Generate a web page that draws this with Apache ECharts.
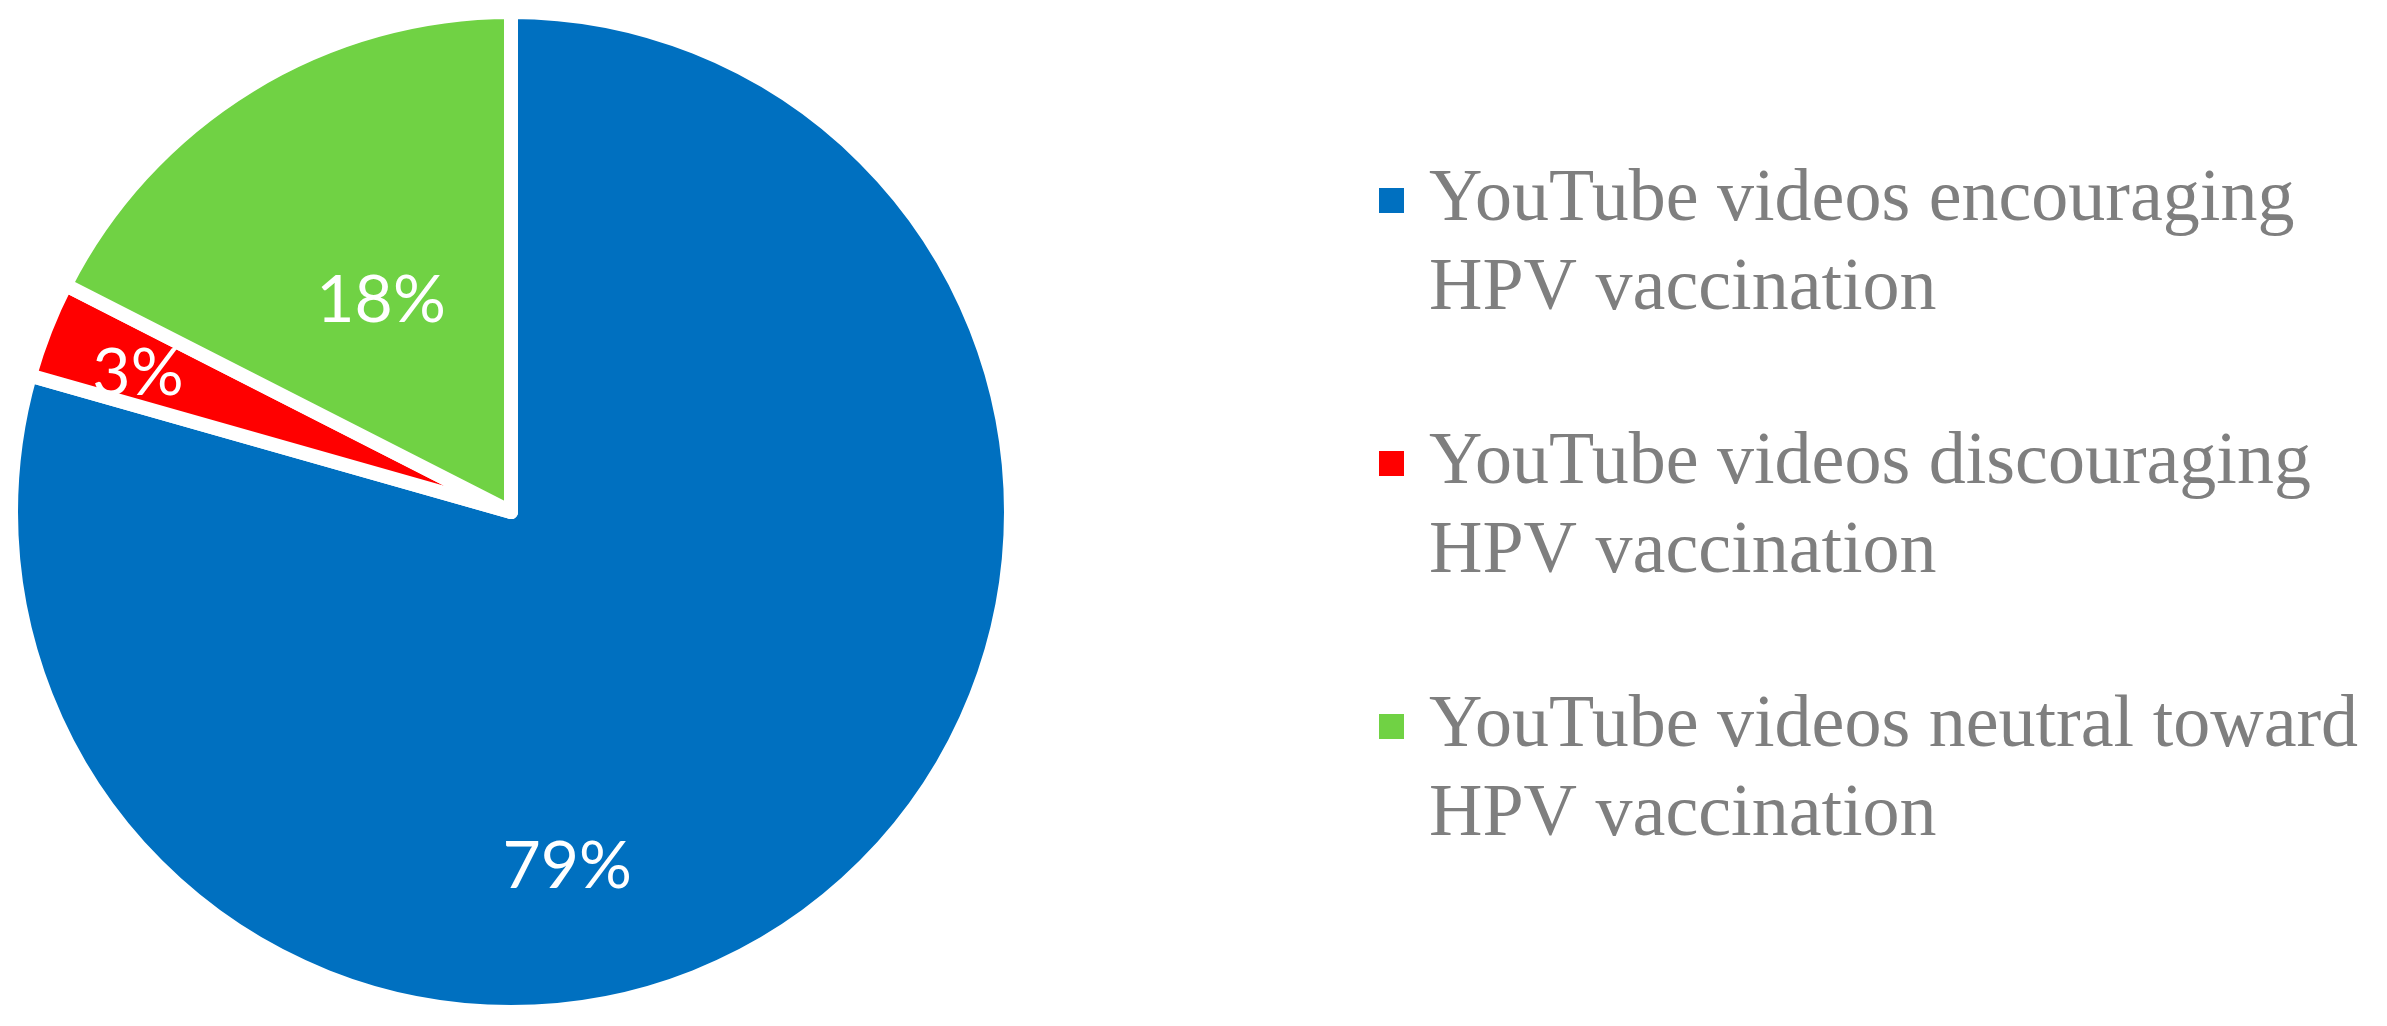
<!DOCTYPE html>
<html>
<head>
<meta charset="utf-8">
<script src="https://cdn.jsdelivr.net/npm/echarts@6/dist/echarts.min.js"></script>
<style>
  html, body { margin: 0; padding: 0; background: #ffffff; }
  #chart { width: 2387px; height: 1026px; }
</style>
</head>
<body>
<div id="chart"></div>
<script>
const categories = [
  'YouTube videos encouraging\nHPV vaccination',
  'YouTube videos discouraging\nHPV vaccination',
  'YouTube videos neutral toward\nHPV vaccination'
];
// slice shares (labels show them rounded: 79%, 3%, 18%)
const shares = [79.4, 3.1, 17.5];
const sliceColors = ['#0070C0', '#FF0000', '#70D244'];

// label placement (angle clockwise from 12 o'clock in degrees, fraction of radius)
const labelAngles = [171.0, 290.4, 328.4];
const labelRadiusFrac = [0.719, 0.796, 0.496];

const pieCenter = [511, 512];
const pieRadius = 500;

const chart = echarts.init(document.getElementById('chart'), null, { renderer: 'canvas' });

const option = {
  backgroundColor: '#ffffff',
  animation: false,
  color: sliceColors,
  legend: {
    orient: 'vertical',
    left: 1377,
    top: 67,
    padding: 0,
    itemGap: -4,
    itemWidth: 27,
    itemHeight: 27,
    icon: 'rect',
    selectedMode: false,
    data: categories,
    // a leading blank line keeps the marker level with the first text line
    formatter: name => '\n' + name,
    textStyle: {
      fontFamily: 'Liberation Serif',
      fontSize: 74,
      color: '#7f7f7f',
      lineHeight: 89,
      padding: [0, 0, 0, 19]
    }
  },
  series: [{
    type: 'pie',
    center: pieCenter,
    radius: pieRadius,
    startAngle: 90,
    clockwise: true,
    avoidLabelOverlap: false,
    emphasis: { scale: false, disabled: true },
    itemStyle: {
      borderColor: '#ffffff',
      borderWidth: 14,
      borderJoin: 'round'
    },
    label: {
      show: true,
      position: 'inside',
      color: '#ffffff',
      fontFamily: 'Lato',
      fontSize: 66,
      formatter: p => Math.round(p.percent) + '%'
    },
    labelLine: { show: false },
    labelLayout: function (params) {
      const i = params.dataIndex;
      const a = labelAngles[i] * Math.PI / 180;
      const r = labelRadiusFrac[i] * pieRadius;
      return {
        x: pieCenter[0] + r * Math.sin(a),
        y: pieCenter[1] - r * Math.cos(a),
        align: 'center',
        verticalAlign: 'middle'
      };
    },
    data: categories.map((name, i) => ({ name: name, value: shares[i] }))
  }]
};

chart.setOption(option);
</script>
</body>
</html>
